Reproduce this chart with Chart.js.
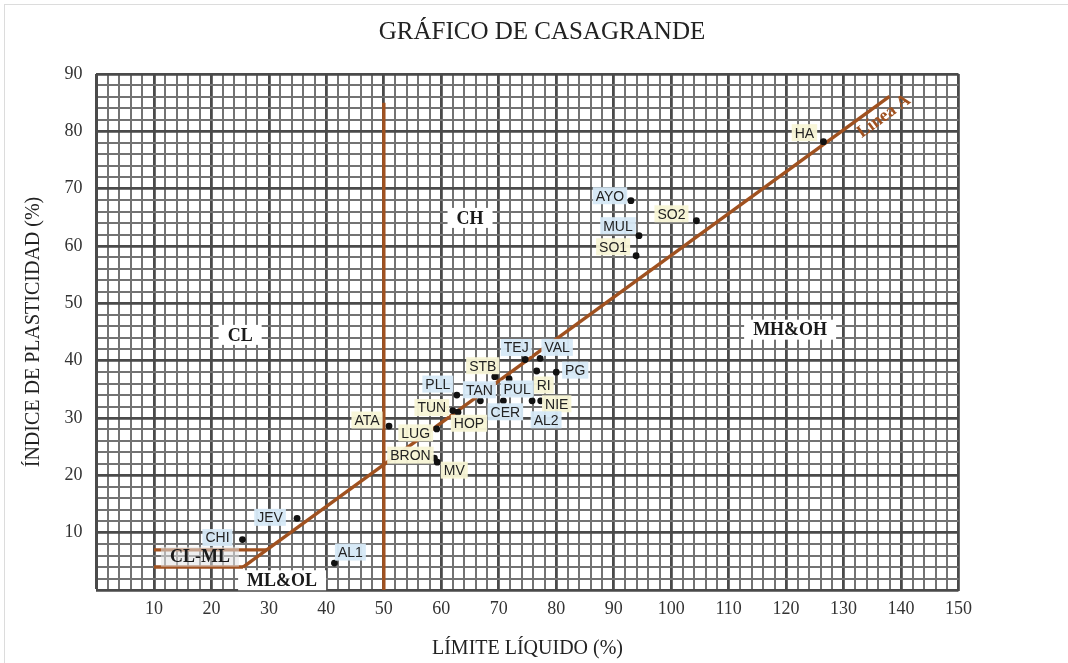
<!DOCTYPE html>
<html><head><meta charset="utf-8">
<script src="https://cdn.jsdelivr.net/npm/chart.js@4.4.1/dist/chart.umd.min.js"></script>
<style>html,body{margin:0;padding:0;background:#fff}canvas{display:block}</style>
</head><body>
<canvas id="c" width="1068" height="663"></canvas>
<script>
// ---- data ----
const sampleNames = ['HA','AYO','SO2','MUL','SO1','TEJ','VAL','STB','PG','RI','PUL','TAN','CER','NIE','AL2','PLL','TUN','HOP','ATA','LUG','BRON','MV','JEV','CHI','AL1'];
const liquidLimit = [126.5, 93.0, 104.4, 94.4, 93.9, 74.6, 77.2, 69.3, 80.0, 76.6, 71.8, 66.8, 70.8, 77.3, 75.8, 62.7, 62.0, 62.9, 50.9, 59.2, 58.8, 59.3, 34.9, 25.4, 41.4];
const plasticityIndex = [78.2, 67.9, 64.4, 61.8, 58.3, 40.2, 40.4, 37.2, 38.0, 38.2, 36.8, 33.0, 33.0, 33.0, 33.0, 34.0, 31.3, 31.0, 28.6, 28.1, 23.0, 22.3, 12.5, 8.8, 4.7];

const xTickLabels = [10,20,30,40,50,60,70,80,90,100,110,120,130,140,150];
const yTickLabels = [10,20,30,40,50,60,70,80,90];

const lineA_LL = [25.5, 138];
const lineA_PI = [4, 86.1];
const lineB_LL = [50, 50];
const lineB_PI = [0, 85];
const clmlLow_LL = [10, 25.5];
const clmlLow_PI = [4, 4];
const clmlHigh_LL = [10, 29.6];
const clmlHigh_PI = [7, 7];

const regionNames = ['CH','CL','MH&OH','CL-ML','ML&OL'];
const regionLL = [65, 25, 120.7, 18, 32.3];
const regionPI = [64.9, 44.5, 45.4, 5.8, 1.7];

// ---- label placement / style (pixels) ----
const labelStyle = {
  HA:[-19,-9,'y'], AYO:[-21,-5,'b'], SO2:[-25,-7,'y'], MUL:[-21,-10,'b'], SO1:[-23,-9,'y'],
  TEJ:[-9,-12,'b'], VAL:[17,-11,'b'], STB:[-12,-11,'y'], PG:[19,-2,'b'], RI:[7,14,'y'],
  PUL:[8,10,'b'], TAN:[-1,-11,'b'], CER:[2,11,'b'], NIE:[16,3,'y'], AL2:[14,19,'b'],
  PLL:[-19,-11,'b'], TUN:[-21,-3,'y'], HOP:[11,11,'y'], ATA:[-22,-6,'y'], LUG:[-21,4,'y'],
  BRON:[-24,-3,'y'], MV:[17,8,'y'], JEV:[-27,-1,'b'], CHI:[-25,-2,'b'], AL1:[16,-11,'b']
};
const toneColor = {b:'rgba(214,233,247,0.95)', y:'rgba(248,245,214,0.95)'};
const BROWN = '#a0511f';
const SERIF = '"Liberation Serif","Times New Roman",serif';
const SANS = '"Liberation Sans",Arial,sans-serif';

const pts = (xs, ys) => xs.map((x, i) => ({x, y: ys[i]}));

const lineDs = (xs, ys) => ({
  data: pts(xs, ys), showLine: true, borderColor: BROWN, borderWidth: 3.4,
  pointRadius: 0, fill: false, order: 2
});

const annotate = {
  id: 'annotate',
  afterDatasetsDraw(chart) {
    const {ctx, scales: {x, y}} = chart;
    ctx.save();
    // region labels
    regionNames.forEach((t, i) => {
      const px = x.getPixelForValue(regionLL[i]);
      const py = y.getPixelForValue(regionPI[i]);
      ctx.font = 'bold 18px ' + SERIF;
      const w = ctx.measureText(t).width;
      ctx.fillStyle = t === 'CL-ML' ? 'rgba(225,225,225,0.55)' : '#fff';
      ctx.fillRect(px - w / 2 - 9, py - 10, w + 18, 20);
      ctx.fillStyle = '#1a1a1a';
      ctx.textAlign = 'center';
      ctx.textBaseline = 'middle';
      ctx.fillText(t, px, py + 1);
    });
    // sample labels
    ctx.font = '14px ' + SANS;
    sampleNames.forEach((n, i) => {
      const s = labelStyle[n];
      const px = x.getPixelForValue(liquidLimit[i]) + s[0];
      const py = y.getPixelForValue(plasticityIndex[i]) + s[1];
      const w = ctx.measureText(n).width;
      ctx.fillStyle = toneColor[s[2]];
      ctx.fillRect(px - w / 2 - 3, py - 8.5, w + 6, 17);
      ctx.fillStyle = '#222';
      ctx.textAlign = 'center';
      ctx.textBaseline = 'middle';
      ctx.fillText(n, px, py + 1);
    });
    // Linea A label
    const x1 = x.getPixelForValue(lineA_LL[0]), y1 = y.getPixelForValue(lineA_PI[0]);
    const x2 = x.getPixelForValue(lineA_LL[1]), y2 = y.getPixelForValue(lineA_PI[1]);
    const ang = Math.atan2(y2 - y1, x2 - x1);
    ctx.translate(x.getPixelForValue(137.0), y.getPixelForValue(82.6));
    ctx.rotate(ang);
    ctx.font = 'bold 18px ' + SERIF;
    ctx.fillStyle = BROWN;
    ctx.textAlign = 'center';
    ctx.textBaseline = 'middle';
    ctx.fillText('Línea A', 0, 0);
    ctx.restore();
  },
  afterDraw(chart) {
    const {ctx} = chart;
    ctx.save();
    ctx.font = '25px ' + SERIF;
    ctx.fillStyle = '#222';
    ctx.textAlign = 'center';
    ctx.textBaseline = 'middle';
    ctx.fillText('GRÁFICO DE CASAGRANDE', 542, 32);
    ctx.strokeStyle = '#dcdcdc';
    ctx.lineWidth = 1;
    ctx.strokeRect(4.5, 4.5, 1100, 700);
    ctx.restore();
  }
};

const gridColor = c => (c.tick && c.tick.value % 10 === 0) ? '#4a4a4a' : '#737373';
const gridWidth = c => (c.tick && c.tick.value % 10 === 0) ? 2.8 : 2;

new Chart(document.getElementById('c'), {
  type: 'scatter',
  data: {
    datasets: [
      {data: pts(liquidLimit, plasticityIndex), pointRadius: 3.4, pointBackgroundColor: '#111',
       pointBorderWidth: 0, order: 1},
      lineDs(lineA_LL, lineA_PI),
      lineDs(lineB_LL, lineB_PI),
      lineDs(clmlLow_LL, clmlLow_PI),
      lineDs(clmlHigh_LL, clmlHigh_PI)
    ]
  },
  options: {
    responsive: false,
    animation: false,
    devicePixelRatio: 1,
    layout: {padding: {top: 74, right: 109.5, left: 0, bottom: 0}},
    plugins: {legend: {display: false}, tooltip: {enabled: false}, title: {display: false}},
    scales: {
      x: {
        type: 'linear', min: 0, max: 150,
        afterFit: s => { s.height = 73; },
        ticks: {stepSize: 2, autoSkip: false, maxRotation: 0, padding: 8,
          font: {family: SERIF, size: 18}, color: '#333',
          callback: v => xTickLabels.includes(v) ? String(v) : ''},
        grid: {color: gridColor, lineWidth: gridWidth, drawTicks: false},
        border: {display: true, color: '#4a4a4a', width: 2},
        title: {display: true, text: 'LÍMITE LÍQUIDO (%)', font: {family: SERIF, size: 20},
          color: '#222', padding: {top: 0, bottom: 2}}
      },
      y: {
        type: 'linear', min: 0, max: 90,
        afterFit: s => { s.width = 96.5; },
        ticks: {stepSize: 2, autoSkip: false, padding: 14,
          font: {family: SERIF, size: 18}, color: '#333',
          callback: v => yTickLabels.includes(v) ? String(v) : ''},
        grid: {color: gridColor, lineWidth: gridWidth, drawTicks: false},
        border: {display: true, color: '#4a4a4a', width: 2},
        title: {display: true, text: 'ÍNDICE DE PLASTICIDAD (%)', font: {family: SERIF, size: 20},
          color: '#222', padding: {top: 22, bottom: 0}}
      }
    }
  },
  plugins: [annotate]
});
</script>
</body></html>
